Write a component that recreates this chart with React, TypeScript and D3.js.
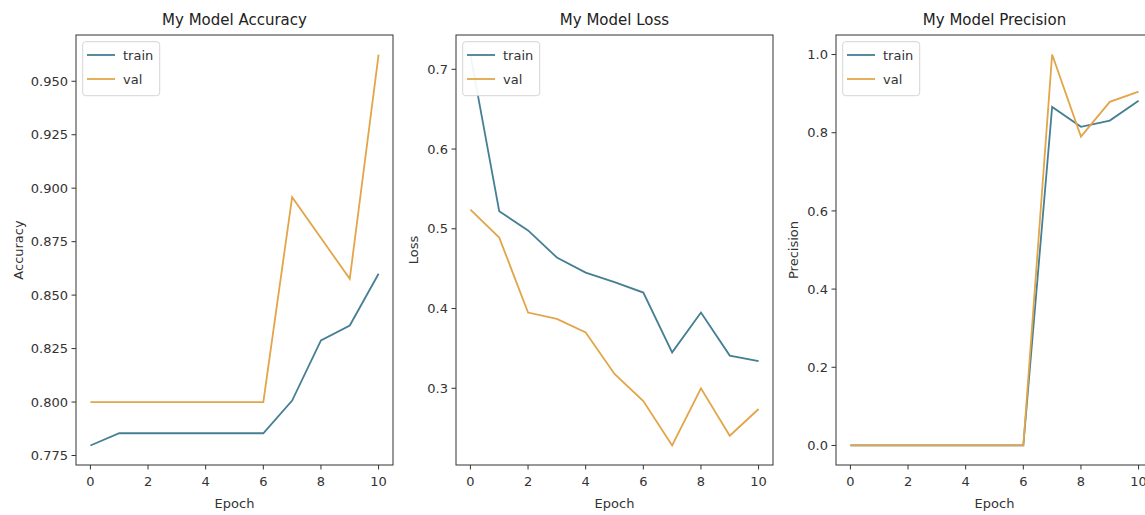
import React from "react";
import * as d3 from "d3";

const epochs = [0, 1, 2, 3, 4, 5, 6, 7, 8, 9, 10];

const accTrain = [0.7797, 0.7854, 0.7854, 0.7854, 0.7854, 0.7854, 0.7854, 0.8007, 0.8288, 0.8358, 0.86];
const accVal = [0.8, 0.8, 0.8, 0.8, 0.8, 0.8, 0.8, 0.8958, 0.8767, 0.8576, 0.9625];

const lossTrain = [0.7185, 0.522, 0.498, 0.464, 0.445, 0.433, 0.42, 0.345, 0.395, 0.341, 0.334];
const lossVal = [0.524, 0.489, 0.395, 0.387, 0.37, 0.318, 0.284, 0.2283, 0.3, 0.2405, 0.274];

const precTrain = [0, 0, 0, 0, 0, 0, 0, 0.866, 0.815, 0.831, 0.882];
const precVal = [0, 0, 0, 0, 0, 0, 0, 1.0, 0.79, 0.879, 0.905];

const xTicks = [0, 2, 4, 6, 8, 10];
const accTicks = [0.775, 0.8, 0.825, 0.85, 0.875, 0.9, 0.925, 0.95];
const lossTicks = [0.3, 0.4, 0.5, 0.6, 0.7];
const precTicks = [0, 0.2, 0.4, 0.6, 0.8, 1.0];

const titles = ["My Model Accuracy", "My Model Loss", "My Model Precision"];
const yLabels = ["Accuracy", "Loss", "Precision"];
const xLabel = "Epoch";
const legendLabels = ["train", "val"];

const TRAIN_COLOR = "#457f94";
const VAL_COLOR = "#e3a549";
const FONT = "DejaVu Sans, sans-serif";

type PanelProps = {
  left: number;
  title: string;
  yLabel: string;
  train: number[];
  val: number[];
  yTicks: number[];
  fmt: string;
  yLabelOffset: number;
};

function Panel({ left, title, yLabel, train, val, yTicks, fmt, yLabelOffset }: PanelProps) {
  const top = 35;
  const bottom = 465;
  const width = 317;
  const right = left + width;
  const all = train.concat(val);
  const lo = d3.min(all) as number;
  const hi = d3.max(all) as number;
  const m = (hi - lo) * 0.05;
  const x = d3.scaleLinear().domain([-0.5, 10.5]).range([left, right]);
  const y = d3.scaleLinear().domain([lo - m, hi + m]).range([bottom, top]);
  const line = d3
    .line<number>()
    .x((_, i) => x(epochs[i]))
    .y((d) => y(d));
  const f = d3.format(fmt);
  const cx = left + width / 2;
  return (
    <g fontFamily={FONT}>
      <text x={cx} y={25} textAnchor="middle" fontSize={15} fill="#222">
        {title}
      </text>
      <path d={line(train) || ""} fill="none" stroke={TRAIN_COLOR} strokeWidth={1.8} />
      <path d={line(val) || ""} fill="none" stroke={VAL_COLOR} strokeWidth={1.8} />
      <rect x={left} y={top} width={width} height={bottom - top} fill="none" stroke="#333" strokeWidth={1} />
      {xTicks.map((t) => (
        <g key={"x" + t}>
          <line x1={x(t)} x2={x(t)} y1={bottom} y2={bottom + 4.5} stroke="#333" />
          <text x={x(t)} y={bottom + 21} textAnchor="middle" fontSize={13} fill="#333">
            {t}
          </text>
        </g>
      ))}
      {yTicks.map((t) => (
        <g key={"y" + t}>
          <line x1={left - 4.5} x2={left} y1={y(t)} y2={y(t)} stroke="#333" />
          <text x={left - 8} y={y(t) + 4.6} textAnchor="end" fontSize={13} fill="#333">
            {f(t)}
          </text>
        </g>
      ))}
      <text x={cx} y={508} textAnchor="middle" fontSize={13} fill="#333">
        {xLabel}
      </text>
      <text
        transform={`translate(${left + yLabelOffset},${(top + bottom) / 2}) rotate(-90)`}
        textAnchor="middle"
        fontSize={13}
        fill="#333"
      >
        {yLabel}
      </text>
      <g>
        <rect
          x={left + 6.7}
          y={top + 6.7}
          width={77}
          height={54}
          rx={3}
          fill="white"
          fillOpacity={0.92}
          stroke="#d4d4d4"
          strokeWidth={1}
        />
        {legendLabels.map((lab, i) => (
          <g key={lab}>
            <line
              x1={left + 11}
              x2={left + 39}
              y1={top + 20 + i * 24}
              y2={top + 20 + i * 24}
              stroke={i === 0 ? TRAIN_COLOR : VAL_COLOR}
              strokeWidth={1.8}
            />
            <text x={left + 47} y={top + 24.5 + i * 24} fontSize={13} fill="#333">
              {lab}
            </text>
          </g>
        ))}
      </g>
    </g>
  );
}

export default function App() {
  return (
    <svg
      width={1145}
      height={515}
      style={{ position: "absolute", left: 0, top: 0, background: "white" }}
    >
      <rect x={0} y={0} width={1145} height={515} fill="white" />
      <Panel left={76} title={titles[0]} yLabel={yLabels[0]} train={accTrain} val={accVal} yTicks={accTicks} fmt=".3f" yLabelOffset={-53} />
      <Panel left={456} title={titles[1]} yLabel={yLabels[1]} train={lossTrain} val={lossVal} yTicks={lossTicks} fmt=".1f" yLabelOffset={-38} />
      <Panel left={836} title={titles[2]} yLabel={yLabels[2]} train={precTrain} val={precVal} yTicks={precTicks} fmt=".1f" yLabelOffset={-38} />
    </svg>
  );
}
